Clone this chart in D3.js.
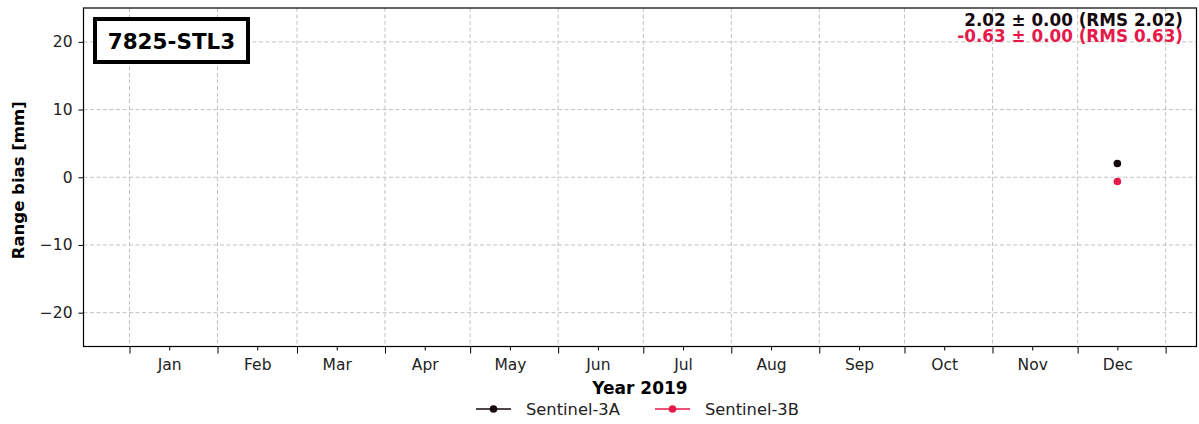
<!DOCTYPE html>
<html>
<head>
<meta charset="utf-8">
<script src="https://cdn.jsdelivr.net/npm/d3@7"></script>
<style>
  html, body { margin: 0; padding: 0; background: #fff; }
  svg { display: block; font-family: "DejaVu Sans", sans-serif; }
</style>
</head>
<body>
<svg id="chart" width="1199" height="424"></svg>
<script>
// ---- data ----
const stationName = "7825-STL3";
const seriesNames = ["Sentinel-3A", "Sentinel-3B"];
const seriesColors = ["#15080f", "#e6194b"];
const obsDates = ["2019-12-15"];
const s3aValues = [2.02];
const s3bValues = [-0.63];
const statsLines = ["2.02 \u00b1 0.00 (RMS 2.02)", "-0.63 \u00b1 0.00 (RMS 0.63)"];
const yTicks = [-20, -10, 0, 10, 20];
const monthLabels = ["Jan","Feb","Mar","Apr","May","Jun","Jul","Aug","Sep","Oct","Nov","Dec"];
const yearLabel = "Year 2019";
const yLabel = "Range bias [mm]";

// ---- layout ----
const svg = d3.select("#chart");
const L = 83.5, R = 1196.5, T = 8, B = 346.5;

const x = d3.scaleTime()
  .domain([new Date(2018, 11, 15, 19), new Date(2020, 0, 11, 21)])
  .range([L, R]);
const y = d3.scaleLinear().domain([-25, 25]).range([B, T]);

const monthStarts = d3.range(0, 13).map(m => new Date(2019, m, 1));
const monthMids = d3.range(0, 12).map(m => new Date(2019, m, 15));

// grid
const grid = svg.append("g");
grid.selectAll("line.v").data(monthStarts).join("line")
  .attr("x1", d => x(d)).attr("x2", d => x(d))
  .attr("y1", T).attr("y2", B)
  .attr("stroke", "#b3b3b3").attr("stroke-width", 0.8).attr("stroke-dasharray", "4,2.5");
grid.selectAll("line.h").data(yTicks).join("line")
  .attr("x1", L).attr("x2", R)
  .attr("y1", d => y(d)).attr("y2", d => y(d))
  .attr("stroke", "#b3b3b3").attr("stroke-width", 0.8).attr("stroke-dasharray", "4,2.5");

// axes
const xMajor = d3.axisBottom(x).tickValues(monthStarts).tickSize(7).tickFormat("");
const xMinor = d3.axisBottom(x).tickValues(monthMids).tickSize(4)
  .tickFormat((d, i) => monthLabels[i]).tickPadding(8);
const gxMaj = svg.append("g").attr("transform", `translate(0,${B})`).call(xMajor);
const gxMin = svg.append("g").attr("transform", `translate(0,${B})`).call(xMinor);
[gxMaj, gxMin].forEach(g => {
  g.select(".domain").remove();
  g.selectAll("line").attr("stroke", "#000").attr("stroke-width", 1);
});
gxMin.selectAll("text").attr("font-size", 15.5).attr("fill", "#222")
  .attr("font-family", "DejaVu Sans");

const gy = svg.append("g").attr("transform", `translate(${L},0)`)
  .call(d3.axisLeft(y).tickValues(yTicks).tickSize(5).tickPadding(6)
    .tickFormat(d => d < 0 ? "\u2212" + Math.abs(d) : d));
gy.select(".domain").remove();
gy.selectAll("line").attr("stroke", "#000");
gy.selectAll("text").attr("font-size", 15.5).attr("fill", "#222")
  .attr("font-family", "DejaVu Sans");

// frame
svg.append("rect").attr("x", L).attr("y", T).attr("width", R - L).attr("height", B - T)
  .attr("fill", "none").attr("stroke", "#000").attr("stroke-width", 1.2);

// points
const parse = d3.timeParse("%Y-%m-%d");
const series = [s3aValues, s3bValues];
series.forEach((vals, si) => {
  svg.append("g").selectAll("circle").data(vals).join("circle")
    .attr("cx", (d, i) => x(parse(obsDates[i])))
    .attr("cy", d => y(d))
    .attr("r", 3.8)
    .attr("fill", seriesColors[si]);
});

// station box
const bx = svg.append("g");
bx.append("rect").attr("x", 95).attr("y", 19).attr("width", 153).attr("height", 43)
  .attr("fill", "#fff").attr("stroke", "#000").attr("stroke-width", 4);
bx.append("text").attr("x", 171.5).attr("y", 48.5).attr("text-anchor", "middle")
  .attr("font-size", 21.5).attr("font-weight", "bold").text(stationName);

// stats
statsLines.forEach((s, i) => {
  svg.append("text").attr("x", 1183).attr("y", 26 + i * 16)
    .attr("text-anchor", "end").attr("font-size", 16.8).attr("font-weight", "bold")
    .attr("fill", seriesColors[i]).text(s);
});

// axis labels
svg.append("text").attr("x", (L + R) / 2).attr("y", 394).attr("text-anchor", "middle")
  .attr("font-size", 17).attr("font-weight", "bold").text(yearLabel);
svg.append("text").attr("transform", `translate(24,${(T + B) / 2 + 3}) rotate(-90)`)
  .attr("text-anchor", "middle").attr("font-size", 16.5).attr("font-weight", "bold").text(yLabel);

// legend
const legendX = [476, 655];
seriesNames.forEach((n, i) => {
  const g = svg.append("g").attr("transform", `translate(${legendX[i]},409)`);
  g.append("line").attr("x1", 0).attr("x2", 35).attr("stroke", seriesColors[i]).attr("stroke-width", 1.6);
  g.append("circle").attr("cx", 17.5).attr("r", 3.8).attr("fill", seriesColors[i]);
  g.append("text").attr("x", 50).attr("y", 5.5).attr("font-size", 16.3).attr("fill", "#222").text(n);
});
</script>
</body>
</html>
